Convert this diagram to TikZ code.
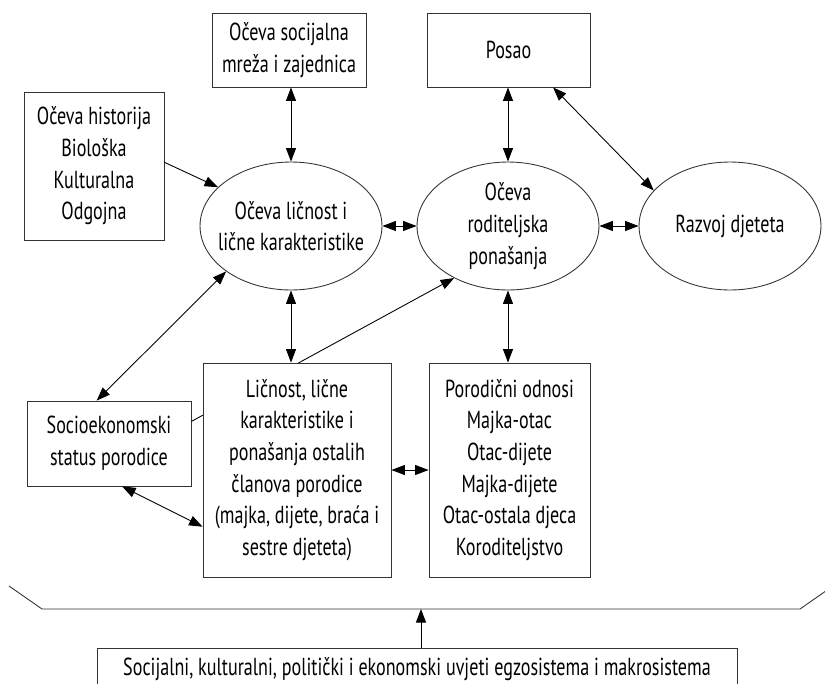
\documentclass[tikz,border=0pt]{standalone}
\usepackage{fontspec}
\setmainfont{PT Sans}[FakeStretch=0.735]
\usepackage{tikz}
\usetikzlibrary{calc}
\usetikzlibrary{shapes}
\usetikzlibrary{arrows.meta}
\usetikzlibrary{fit,positioning}

\begin{document}
\begin{tikzpicture}[x=0.02cm, y=-0.02cm]
  \tikzstyle{main}=[ellipse, minimum width=3.64cm, minimum height=2.56cm, draw=black!80, line width=0.5pt, align=center, inner xsep=-6pt, inner ysep=0pt]
  \tikzstyle{box}=[rectangle, draw=black!80, line width=0.5pt, align=center, inner sep=2pt]
  \tikzstyle{connect}=[-{Triangle[length=2.7mm,width=2mm]}, line width=0.5pt]
  \tikzstyle{both}=[{Triangle[length=2.7mm,width=2mm]}-{Triangle[length=2.7mm,width=2mm]}, line width=0.5pt]
  \tikzset{every node/.style={font=\fontsize{14}{18}\selectfont}}
  \useasboundingbox (0,0) rectangle (825,683);
    \node[box, minimum width=3.08cm, minimum height=1.48cm] (mreza) at (289,50) {Očeva socijalna\\mreža i zajednica};
    \node[box, minimum width=3.26cm, minimum height=1.48cm] (posao) at (508.5,50) {Posao};
    \node[box, minimum width=2.8cm, minimum height=2.96cm] (historija) at (94,166) {Očeva historija\\Biološka\\Kulturalna\\Odgojna};
    \node[main] (licnost) at (291,226) {Očeva ličnost i\\lične karakteristike};
    \node[main] (roditelj) at (508,226) {Očeva\\roditeljska\\ponašanja};
    \node[main] (razvoj) at (730,226) {Razvoj djeteta};
    \node[box, minimum width=3.28cm, minimum height=1.7cm] (socio) at (109,443.5) {Socioekonomski\\status porodice};
    \path (socio.15) edge [connect] (roditelj.224);
    \node[box, fill=white, minimum width=3.76cm, minimum height=4.28cm] (clanovi) at (297,470) {Ličnost, lične\\karakteristike i\\ponašanja ostalih\\članova porodice\\(majka, dijete, braća i\\sestre djeteta)};
    \node[box, minimum width=3.22cm, minimum height=4.28cm] (odnosi) at (509.5,470) {Porodični odnosi\\Majka-otac\\Otac-dijete\\Majka-dijete\\Otac-ostala djeca\\Koroditeljstvo};
    \node[box, minimum width=12.8cm, minimum height=0.84cm] (uvjeti) at (417,669) {Socijalni, kulturalni, politički i ekonomski uvjeti egzosistema i makrosistema};
    \coordinate (lijevo) at (9,586);
    \coordinate (spoj) at (421,609);
    \coordinate (desno) at (833,586);
    \draw[line width=0.5pt, draw=black!80] (lijevo) -- (42,609) -- (800,609) -- (desno);
    \path (licnost.north) edge [both] (licnost.north |- mreza.south)
          (roditelj.north) edge [both] (roditelj.north |- posao.south)
          (posao.-40) edge [both] (razvoj.155)
          (historija.3) edge [connect] (licnost.152)
          (socio.106) edge [both] (licnost.215)
          (licnost.east) edge [both] (roditelj.west)
          (roditelj.east) edge [both] (razvoj.west)
          (licnost.south) edge [both] (licnost.south |- clanovi.north)
          (roditelj.south) edge [both] (roditelj.south |- odnosi.north)
          (socio.-73) edge [both] (clanovi.211)
          (clanovi.east) edge [both] (odnosi.west)
          (uvjeti.north -| spoj) edge [connect] (spoj);
\end{tikzpicture}
\end{document}
